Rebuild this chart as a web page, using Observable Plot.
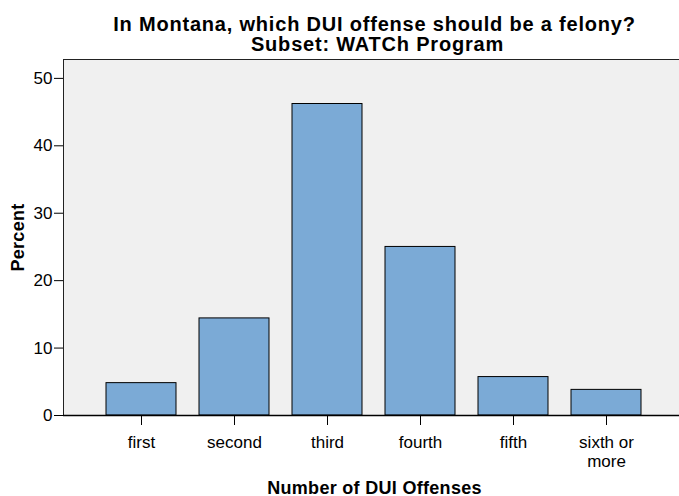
<!DOCTYPE html>
<html>
<head>
<meta charset="utf-8">
<script src="https://cdn.jsdelivr.net/npm/d3@7"></script>
<script src="https://cdn.jsdelivr.net/npm/@observablehq/plot@0.6"></script>
<style>
  html, body { margin: 0; padding: 0; background: #fff; }
  #chart svg { display: block; }
  .ttl text { letter-spacing: 0.8px; }
  .axt text { letter-spacing: 0.3px; }
</style>
</head>
<body>
<div id="chart"></div>
<script>
const categories = ["first", "second", "third", "fourth", "fifth", "sixth or\nmore"];
const percents = [4.8, 14.4, 46.2, 25.0, 5.7, 3.8];
const yTicks = [0, 10, 20, 30, 40, 50];
const titleLines = ["In Montana, which DUI offense should be a felony?", "Subset: WATCh Program"];
const xLabel = "Number of DUI Offenses";
const yLabel = "Percent";

const data = categories.map((c, i) => ({cat: c, pct: percents[i]}));

const font = "'Liberation Sans', Arial, Helvetica, sans-serif";

const chart = Plot.plot({
  width: 679,
  height: 496,
  marginLeft: 63,
  marginRight: 0,
  marginTop: 59,
  marginBottom: 81,
  style: {fontFamily: font, fontSize: "17px", color: "#000", background: "#fff"},
  x: {domain: categories, range: [63, 683], paddingInner: 0.25, paddingOuter: 0.45, axis: null},
  y: {domain: [0, 52.8], axis: null},
  marks: [
    Plot.frame({fill: "#f0f0f0", stroke: "#222", strokeWidth: 1}),
    Plot.barY(data, {x: "cat", y: "pct", fill: "#7baad6", stroke: "#000", strokeWidth: 1}),
    Plot.ruleY([0], {stroke: "#000", strokeWidth: 1.5}),
    Plot.axisY({ticks: yTicks, tickSize: 9, tickPadding: 2, fontSize: 17, label: null, tickFormat: d => String(d), stroke: "#000"}),
    Plot.axisX({tickSize: 10, tickPadding: 9, fontSize: 17, label: null, lineHeight: 1.12, stroke: "#000"}),
    Plot.text([titleLines[0]], {frameAnchor: "top", dx: 3, dy: -29, lineAnchor: "bottom", fontSize: 20, fontWeight: "bold", fill: "#000", className: "ttl"}),
    Plot.text([titleLines[1]], {frameAnchor: "top", dx: 6, dy: -9, lineAnchor: "bottom", fontSize: 20, fontWeight: "bold", fill: "#000", className: "ttl"}),
    Plot.text([xLabel], {frameAnchor: "bottom", dx: 3, dy: 78, lineAnchor: "bottom", fontSize: 18, fontWeight: "bold", fill: "#000", className: "axt"}),
    Plot.text([yLabel], {frameAnchor: "left", dx: -40, dy: 0, rotate: -90, textAnchor: "middle", lineAnchor: "bottom", fontSize: 18, fontWeight: "bold", fill: "#000", className: "axt"})
  ]
});

document.getElementById("chart").appendChild(chart);
</script>
</body>
</html>
